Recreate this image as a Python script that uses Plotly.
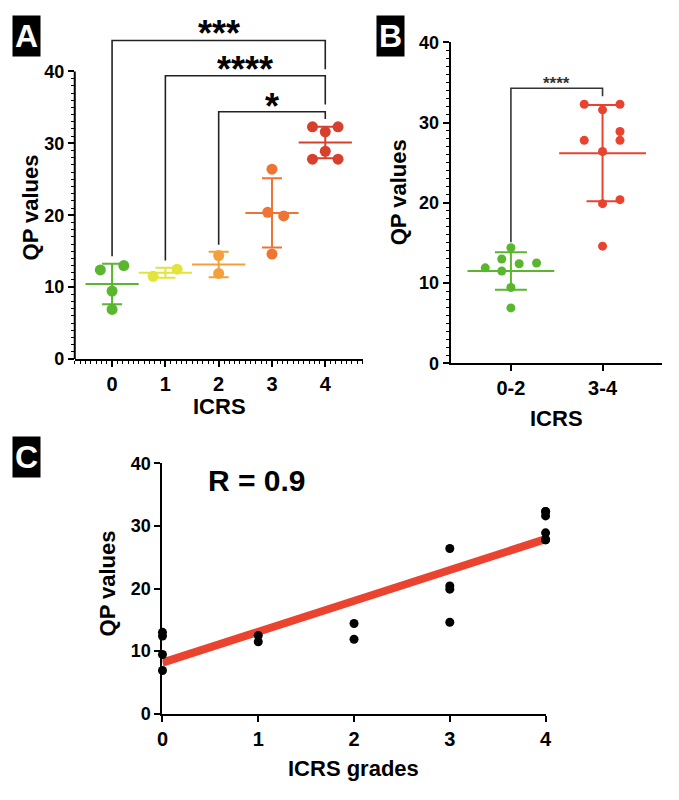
import numpy as np
import plotly.graph_objects as go

# ---------------- data ----------------
ICRS_GRADES = [0, 1, 2, 3, 4]
GRADE_LABELS = ["0", "1", "2", "3", "4"]
QP_G0 = [12.4, 13.0, 9.45, 6.9]
QP_G1 = [11.5, 12.5]
QP_G2 = [14.4, 11.9]
QP_G3 = [26.4, 20.4, 19.9, 14.6]
QP_G4 = [32.3, 32.3, 31.6, 28.9, 27.8, 27.8]
GROUPS = [QP_G0, QP_G1, QP_G2, QP_G3, QP_G4]

# horizontal scatter (beeswarm) offsets used in the plots
JIT_A = [[-0.22, 0.22, 0, 0], [-0.23, 0.22], [0, 0], [0, -0.08, 0.22, 0],
         [-0.24, 0.24, 0, 0, -0.24, 0.24]]
B_LABELS = ["0-2", "3-4"]
JIT_B_LOW = [0.09, -0.10, 0, 0, -0.10, 0.28, 0, -0.28]
JIT_B_HIGH = [0, 0.19, 0, 0, -0.20, 0.19, 0, 0.19, -0.20, 0.19]

# significance brackets: (from, to, top, left-leg end, right-leg end, label, label y)
BRACKETS_A = [(0, 4, 44.3, 14.3, 40.3, "***", 46.4),
              (1, 4, 39.4, 13.7, 35.4, "****", 41.4),
              (2, 4, 34.4, 15.9, 33.4, "*", 36.3)]
BRACKETS_B = [(0, 1, 34.3, 15.1, 33.3, "****", 35.4)]
R_TEXT = "R = 0.9"

# ---------------- styles ----------------
COL_A = ["#5ab52f", "#e2e43c", "#f4a03a", "#ee7434", "#d6402c"]
COL_B = ["#5ab52f", "#e9432f"]
FONT = "Liberation Sans, Arial, sans-serif"
W, H = 679, 800


def px(xp):
    return xp / W


def py(yp):
    return 1 - yp / H


fig = go.Figure()

# ---------------- panel A ----------------
for i, (vals, jit) in enumerate(zip(GROUPS, JIT_A)):
    g = ICRS_GRADES[i]
    arr = np.array(vals)
    m, s = arr.mean(), arr.std(ddof=1)
    fig.add_trace(go.Scatter(
        x=[g], y=[m], mode="markers", xaxis="x", yaxis="y",
        marker=dict(symbol="line-ew", size=38, line=dict(width=2, color=COL_A[i])),
        error_y=dict(type="data", array=[s], color=COL_A[i], thickness=2, width=10),
        showlegend=False, hoverinfo="skip"))
    fig.add_trace(go.Scatter(
        x=[g + j for j in jit], y=vals, mode="markers", xaxis="x", yaxis="y",
        marker=dict(size=11, color=COL_A[i]), cliponaxis=False, showlegend=False))

for (a, b, top, l_end, r_end, lab, ty) in BRACKETS_A:
    fig.add_trace(go.Scatter(
        x=[a, a, b, b], y=[l_end, top, top, r_end], mode="lines", xaxis="x", yaxis="y",
        line=dict(color="#222222", width=1.6), showlegend=False, hoverinfo="skip"))

# ---------------- panel B ----------------
low = QP_G0 + QP_G1 + QP_G2
high = QP_G3 + QP_G4
for k, (vals, jit) in enumerate([(low, JIT_B_LOW), (high, JIT_B_HIGH)]):
    arr = np.array(vals)
    m, s = arr.mean(), arr.std(ddof=1)
    fig.add_trace(go.Scatter(
        x=[k], y=[m], mode="markers", xaxis="x2", yaxis="y2",
        marker=dict(symbol="line-ew", size=62, line=dict(width=2, color=COL_B[k])),
        error_y=dict(type="data", array=[s], color=COL_B[k], thickness=2, width=16),
        showlegend=False, hoverinfo="skip"))
    fig.add_trace(go.Scatter(
        x=[k + j for j in jit], y=vals, mode="markers", xaxis="x2", yaxis="y2",
        marker=dict(size=9, color=COL_B[k]), cliponaxis=False, showlegend=False))

for (a, b, top, l_end, r_end, lab, ty) in BRACKETS_B:
    fig.add_trace(go.Scatter(
        x=[a, a, b, b], y=[l_end, top, top, r_end], mode="lines", xaxis="x2", yaxis="y2",
        line=dict(color="#333333", width=1.6), showlegend=False, hoverinfo="skip"))

# ---------------- panel C ----------------
xs = []
ys = []
for g, vals in zip(ICRS_GRADES, GROUPS):
    xs += [g] * len(vals)
    ys += vals
slope, icpt = np.polyfit(xs, ys, 1)
xl = np.array([ICRS_GRADES[0], ICRS_GRADES[-1]])
fig.add_trace(go.Scatter(x=xl, y=slope * xl + icpt, mode="lines", xaxis="x3", yaxis="y3",
                         line=dict(color="#ea4430", width=8), showlegend=False))
fig.add_trace(go.Scatter(x=xs, y=ys, mode="markers", xaxis="x3", yaxis="y3",
                         marker=dict(size=9, color="black"), cliponaxis=False,
                         showlegend=False))

# ---------------- axes ----------------
tick_y = dict(family=FONT, size=18, color="black", weight="bold")
tick_x = dict(family=FONT, size=20, color="black", weight="bold")
minor_vals = [v for v in range(1, 40) if v % 10]
A_TOP = 48

fig.update_layout(
    width=W, height=H, autosize=False, margin=dict(l=0, r=0, t=0, b=0),
    paper_bgcolor="white", plot_bgcolor="white", showlegend=False,
    xaxis=dict(domain=[px(70), px(363)], range=[-0.7, 4.7], anchor="y",
               tickmode="array", tickvals=ICRS_GRADES, ticktext=GRADE_LABELS,
               showline=True, linecolor="black", linewidth=2, showgrid=False, zeroline=False,
               ticks="outside", ticklen=6, tickwidth=2, tickcolor="black", tickfont=tick_x,
               minor=dict(dtick=0.1, tick0=0, ticks="outside", ticklen=3, tickwidth=1,
                          tickcolor="black", showgrid=False)),
    yaxis=dict(domain=[py(358), py(358 - A_TOP * 7.375)], range=[0, A_TOP], anchor="x",
               tickmode="array", tickvals=[0, 10, 20, 30, 40],
               showline=False, showgrid=False, zeroline=False,
               ticks="outside", ticklen=6, tickwidth=2, tickcolor="black", tickfont=tick_y,
               minor=dict(tickmode="array", tickvals=minor_vals, ticks="outside", ticklen=3,
                          tickwidth=1.2, tickcolor="black", showgrid=False)),
    xaxis2=dict(domain=[px(452.7), px(668.3)], range=[-0.657, 1.654], anchor="y2",
                tickmode="array", tickvals=[0, 1], ticktext=B_LABELS,
                showline=True, linecolor="black", linewidth=2, showgrid=False, zeroline=False,
                ticks="outside", ticklen=6, tickwidth=2, tickcolor="black", tickfont=tick_x),
    yaxis2=dict(domain=[py(362.3), py(33.3)], range=[0, 40], anchor="x2",
                tickmode="array", tickvals=[0, 10, 20, 30, 40],
                showline=True, linecolor="black", linewidth=2, showgrid=False, zeroline=False,
                ticks="outside", ticklen=6, tickwidth=2, tickcolor="black", tickfont=tick_y,
                minor=dict(tickmode="array", tickvals=minor_vals, ticks="outside", ticklen=3,
                           tickwidth=1.2, tickcolor="black", showgrid=False)),
    xaxis3=dict(domain=[px(159.3), px(549.3)], range=[0, 4], anchor="y3",
                tickmode="array", tickvals=ICRS_GRADES, ticktext=GRADE_LABELS,
                showline=True, linecolor="black", linewidth=2, showgrid=False, zeroline=False,
                ticks="outside", ticklen=6, tickwidth=2, tickcolor="black", tickfont=tick_x),
    yaxis3=dict(domain=[py(721.7), py(465)], range=[0, 40], anchor="x3",
                tickmode="array", tickvals=[0, 10, 20, 30, 40],
                showline=True, linecolor="black", linewidth=2, showgrid=False, zeroline=False,
                ticks="outside", ticklen=6, tickwidth=2, tickcolor="black", tickfont=tick_y),
)

# y-axis line of panel A (stops at 40)
fig.add_shape(type="line", xref="x domain", yref="y", x0=0, x1=0, y0=0, y1=40,
              line=dict(color="black", width=2))


# ---------------- annotations ----------------
def ann(text, x, y, size, angle=0, color="black", bg=None, **kw):
    d = dict(text=text, x=x, y=y, xref="paper", yref="paper", showarrow=False,
             xanchor="center", yanchor="middle", textangle=angle,
             font=dict(family=FONT, size=size, color=color, weight="bold"))
    if bg:
        d.update(bgcolor=bg, borderpad=2)
    d.update(kw)
    fig.add_annotation(**d)


ann("QP values", px(25), py(203), 22, angle=-90)
ann("ICRS", px(217), py(407), 22)
ann("QP values", px(399), py(187), 22, angle=-90)
ann("ICRS", px(560), py(419), 22)
ann("QP values", px(103), py(588), 22, angle=-90)
ann("ICRS grades", px(354), py(778), 22)
ann(R_TEXT, px(204), py(483), 30, xanchor="left")
ann("A", px(21), py(27), 32, color="white", bg="black")
ann("B", px(391), py(27), 32, color="white", bg="black")
ann("C", px(20.5), py(458), 32, color="white", bg="black")

for (a, b, top, l_end, r_end, lab, ty) in BRACKETS_A:
    fig.add_annotation(text=lab, x=(a + b) / 2, y=ty, xref="x", yref="y", showarrow=False,
                       yanchor="middle", yshift=-8,
                       font=dict(family=FONT, size=36, color="black", weight="bold"))
for (a, b, top, l_end, r_end, lab, ty) in BRACKETS_B:
    fig.add_annotation(text=lab, x=(a + b) / 2, y=ty, xref="x2", yref="y2", showarrow=False,
                       yanchor="middle", yshift=-4,
                       font=dict(family=FONT, size=17, color="#333333", weight="bold"))

CSS_FIX = ("var s=document.createElement('style');"
           "s.textContent='html,body{margin:0;padding:0;overflow:hidden;"
           "width:679px;height:800px;} .plotly-graph-div{display:block;}';"
           "document.head.appendChild(s);")
fig.write_html("out.html", config={"displayModeBar": False}, post_script=CSS_FIX)
